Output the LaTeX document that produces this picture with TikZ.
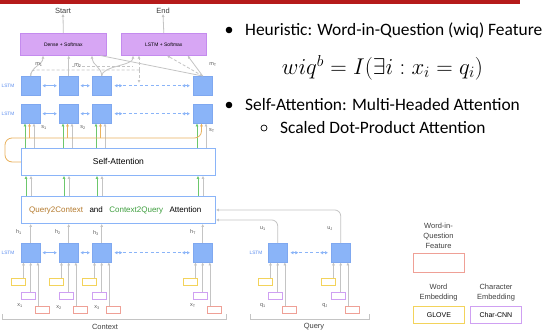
\documentclass[tikz,border=0pt]{standalone}
\usepackage{amsmath}
\usepackage{fontspec}
\setmainfont{Liberation Sans}
\newfontfamily\slidefont{Carlito}
\usetikzlibrary{arrows.meta, calc, positioning}

\definecolor{lstmblue}{HTML}{8AB4F8}
\definecolor{lstmedge}{HTML}{7FA8F0}
\definecolor{lstmtext}{HTML}{5B8DEF}
\definecolor{softpurple}{HTML}{D7A6F4}
\definecolor{softedge}{HTML}{C48BEE}
\definecolor{arrgray}{HTML}{C4C4C4}
\definecolor{attgreen}{HTML}{6CC76C}
\definecolor{attorange}{HTML}{E9B25E}
\definecolor{qctext}{HTML}{B57A2C}
\definecolor{cqtext}{HTML}{3F9F3F}
\definecolor{glovey}{HTML}{F3D35B}
\definecolor{charp}{HTML}{CFA0F2}
\definecolor{wiqred}{HTML}{EFA096}
\definecolor{titlered}{HTML}{B51A1A}

\tikzset{
  lstmbox/.style={fill=lstmblue, draw=lstmedge, line width=0.4pt, minimum width=19pt, minimum height=19pt, inner sep=0pt, anchor=north west},
  softbox/.style={fill=softpurple, draw=softedge, line width=0.6pt, inner sep=0pt, anchor=north west, font=\fontsize{5}{6}\selectfont},
  attbox/.style={draw=lstmblue, line width=0.9pt, fill=white, inner sep=0pt, anchor=north west, minimum width=194pt, minimum height=27pt},
  inbox/.style={fill=white, line width=0.9pt, minimum width=14pt, minimum height=6.5pt, inner sep=0pt, anchor=north west},
  legbox/.style={fill=white, line width=0.9pt, minimum width=51pt, inner sep=0pt, anchor=north west, font=\fontsize{7}{8}\selectfont},
  gline/.style={draw=arrgray, line width=0.8pt},
  garrow/.style={gline, -{Latex[length=3pt,width=3pt]}},
  gdash/.style={gline, dash pattern=on 3pt off 2pt},
  grarrow/.style={draw=attgreen, line width=0.8pt, -{Latex[length=3pt,width=3pt]}},
  orarrow/.style={draw=attorange, line width=0.8pt, -{Latex[length=3pt,width=3pt]}},
  biarrow/.style={draw=lstmblue, line width=0.8pt, {Latex[length=3pt,width=3.5pt]}-{Latex[length=3pt,width=3.5pt]}, shorten <=2pt, shorten >=2pt},
  bidash/.style={draw=lstmblue, line width=0.8pt, dash pattern=on 3pt off 2.5pt, shorten <=12pt, shorten >=12pt},
  lstmlbl/.style={text=lstmtext, font=\fontsize{4.8}{5}\selectfont, inner sep=0pt},
  varlbl/.style={text=black!65, font=\fontsize{5.5}{6}\selectfont, inner sep=0pt},
  captext/.style={text=black!75, font=\fontsize{7.5}{10}\selectfont, inner sep=0pt},
  bullettext/.style={font=\slidefont\fontsize{17.4}{20}\selectfont, anchor=base west, inner sep=0pt}
}

\begin{document}
\begin{tikzpicture}[x=1pt, y=-1pt]
  \useasboundingbox (0,0) rectangle (543,333);
  \fill[white] (0,0) rectangle (543,333);
  \fill[titlered] (0,0) rectangle (520,4);

  % output layer
  \node[softbox, minimum width=86pt, minimum height=22pt] (dense) at (20,33) {Dense + Softmax};
  \node[softbox, minimum width=85pt, minimum height=22pt] (lsoft) at (121,33) {LSTM + Softmax};
  \node[captext] (startlbl) at (63,11) {Start};
  \node[captext] (endlbl) at (163,11) {End};
  \draw[garrow] (dense.north) -- (startlbl.south);
  \draw[garrow] (lsoft.north) -- (endlbl.south);

  % lstm cells
  \foreach \n/\L in {1/21,2/59,3/92,4/193} {
    \node[lstmbox] (mA\n) at (\L,76) {};
    \node[lstmbox] (mB\n) at (\L,104) {};
    \node[lstmbox] (c\n) at (\L,243) {};
  }
  \node[lstmbox] (q1) at (268,243) {};
  \node[lstmbox] (q2) at (331,243) {};

  \node[lstmlbl] (lblA) at (8,85.5) {LSTM};
  \node[lstmlbl] (lblB) at (8,113.5) {LSTM};
  \node[lstmlbl] (lblC) at (8,252.5) {LSTM};
  \node[lstmlbl] (lblQ) at (256,252.5) {LSTM};

  \foreach \r in {mA,mB,c} {
    \draw[biarrow] (\r1.east) -- (\r2.west);
    \draw[biarrow] (\r2.east) -- (\r3.west);
    \draw[bidash] (\r3.east) -- (\r4.west);
    \draw[biarrow] ([xshift=1pt]\r3.east) -- ++(12,0);
    \draw[biarrow] ([xshift=-13pt]\r4.west) -- ++(12,0);
  }
  \draw[bidash] (q1.east) -- (q2.west);
  \draw[biarrow] ([xshift=1pt]q1.east) -- ++(12,0);
  \draw[biarrow] ([xshift=-13pt]q2.west) -- ++(12,0);

  % attention blocks
  \node[attbox, font=\fontsize{8.5}{10}\selectfont] (sa) at (21,148) {Self-Attention};
  \node[attbox] (q2c) at (21,196) {};
  \node[anchor=west, inner sep=0pt, font=\fontsize{8}{9}\selectfont] (q2ctxt) at ([xshift=8pt]q2c.west)
    {\textcolor{qctext}{Query2Context}\hspace{6.5pt}and\hspace{6.5pt}\textcolor{cqtext}{Context2Query}\hspace{6.5pt}Attention};

  % self-attention to modeling
  \coordinate (loopL) at (5,138);
  \foreach \n in {1,...,4} {
    \coordinate (gB\n) at ([xshift=4pt]mB\n.south west);
    \coordinate (oB\n) at ([xshift=8.5pt]mB\n.south west);
    \coordinate (yB\n) at ([xshift=13pt]mB\n.south west);
    \draw[grarrow] (gB\n |- sa.north) -- (gB\n);
    \draw[garrow] (yB\n |- sa.north) -- (yB\n);
    \coordinate (gS\n) at ([xshift=5pt]c\n.north west);
    \coordinate (yS\n) at ([xshift=10pt]c\n.north west);
    \draw[grarrow] (gS\n |- q2c.north) -- (gS\n |- sa.south);
    \draw[garrow] (yS\n |- q2c.north) -- (yS\n |- sa.south);
    \draw[garrow] (c\n.north) -- (c\n.north |- q2c.south);
  }
  \draw[orarrow, rounded corners=7pt] (sa.west) -| (loopL) -| (oB4);
  \foreach \n in {1,2,3}
    \draw[orarrow] (oB\n |- loopL) -- (oB\n);

  % query into attention
  \draw[garrow, rounded corners=6pt] (q1.north) |- ([yshift=-10pt]q2c.east);
  \draw[garrow, rounded corners=6pt] (q2.north) |- (q2c.east);

  % embeddings
  \foreach \n in {c1,c2,c3,c4,q1,q2} {
    \node[inbox, draw=glovey] (y\n) at ($(\n.south west)+(-10,16)$) {};
    \node[inbox, draw=charp] (p\n) at ($(\n.south west)+(0,30)$) {};
    \node[inbox, draw=wiqred] (r\n) at ($(\n.south west)+(14,44)$) {};
    \coordinate (ia\n) at ([xshift=2.5pt]\n.south west);
    \coordinate (ib\n) at (\n.south);
    \coordinate (ic\n) at ([xshift=-2.5pt]\n.south east);
    \draw[garrow] (y\n.north -| ia\n) -- (ia\n);
    \draw[garrow] (p\n.north -| ib\n) -- (ib\n);
    \draw[garrow] (r\n.north -| ic\n) -- (ic\n);
  }

  % modeling to output
  \coordinate (busR) at (139,70);
  \coordinate (busD) at (139,83);
  \coordinate (busM) at (72,66);
  \draw[garrow] (mA1.north) .. controls +(0,-9) and +(0,9) .. ([xshift=23pt]dense.south west);
  \draw[garrow] (mA2.north) -- (mA2.north |- dense.south);
  \draw[garrow] (mA3.north) .. controls +(0,-9) and +(0,9) .. ([xshift=72pt]dense.south west);
  \draw[garrow] (mA3.north) .. controls +(0,-10) and +(0,10) .. ([xshift=12pt]lsoft.south west);
  \draw[gline] (mA4.north) -- ([xshift=-6pt]dense.south east);
  \draw[garrow] (mA4.north) -- ([xshift=-19pt]lsoft.south east);
  \draw[gdash, rounded corners=4pt] (mA1.north) |- (busR);
  \draw[gdash, -{Latex[length=3pt,width=3pt]}] (busR) -- (busR |- lsoft.south);
  \draw[gdash, -{Latex[length=3pt,width=3pt]}] (busR) -- (busD);
  \draw[gdash] (busM) -- ([xshift=-6pt]busM -| busR);
  \draw[gdash, -{Latex[length=3pt,width=3pt]}] (mA4.north) -- ([xshift=46pt]lsoft.south west);

  % variable labels
  \node[varlbl] (lm1) at (39,65) {m\textsubscript{1}};
  \node[varlbl] (lm2) at (78,66) {m\textsubscript{2}};
  \node[varlbl] (lmT) at (213,65) {m\textsubscript{T}};
  \node[varlbl] (ls1) at (44,128) {s\textsubscript{1}};
  \node[varlbl] (ls2) at (83,128) {s\textsubscript{2}};
  \node[varlbl] (lsT) at (212,131) {s\textsubscript{T}};
  \node[varlbl] (lh1) at (19,232) {h\textsubscript{1}};
  \node[varlbl] (lh2) at (58,232) {h\textsubscript{2}};
  \node[varlbl] (lh3) at (96,233) {h\textsubscript{3}};
  \node[varlbl] (lhT) at (193,232) {h\textsubscript{T}};
  \node[varlbl] (lx1) at (20,306) {x\textsubscript{1}};
  \node[varlbl] (lx2) at (59,308) {x\textsubscript{2}};
  \node[varlbl] (lx3) at (97,308) {x\textsubscript{3}};
  \node[varlbl] (lxT) at (193,306) {x\textsubscript{T}};
  \node[varlbl] (lq1) at (263,306) {q\textsubscript{1}};
  \node[varlbl] (lqJ) at (325,306) {q\textsubscript{J}};
  \node[varlbl] (lu1) at (263,229) {u\textsubscript{1}};
  \node[varlbl] (luJ) at (330,229) {u\textsubscript{J}};

  % brackets
  \coordinate (ctxL) at (2,314);
  \coordinate (ctxR) at (226,314);
  \coordinate (qryL) at (250,314);
  \coordinate (qryR) at (369,314);
  \draw[gline] (ctxL) -- ++(0,5) -| (ctxR);
  \draw[gline] (qryL) -- ++(0,5) -| (qryR);
  \node[captext] (ctx) at (105,327) {Context};
  \node[captext] (qry) at (314,327) {Query};

  % legend
  \node[captext, align=center] (wiqlbl) at (438.5,236) {Word-in-\\Question\\Feature};
  \node[legbox, draw=wiqred, minimum height=19pt] (wiq) at (413,253) {};
  \node[captext, align=center] (wordlbl) at (438.5,293) {Word\\Embedding};
  \node[captext, align=center] (charlbl) at (496,293) {Character\\Embedding};
  \node[legbox, draw=glovey, minimum height=17pt] (glove) at (413,306) {GLOVE};
  \node[legbox, draw=charp, minimum height=17pt] (charcnn) at (470,306) {Char-CNN};

  % slide text
  \fill (229,30) circle (3.3pt);
  \node[bullettext] (wiqline) at (245,35) {Heuristic: Word-in-Question (wiq) Feature};
  \node[anchor=base, inner sep=0pt, font=\fontsize{20.74}{24}\selectfont] (wiqeq) at (382.5,74.5) {\scalebox{1.1}{$wiq^b = I(\exists i : x_i = q_i)$}};
  \fill (229,105) circle (3.3pt);
  \node[bullettext] (saline) at (245,110) {Self-Attention: Multi-Headed Attention};
  \draw[line width=0.7pt] (264,128) circle (3pt);
  \node[bullettext] (sdpline) at (280,133) {Scaled Dot-Product Attention};
\end{tikzpicture}
\end{document}
